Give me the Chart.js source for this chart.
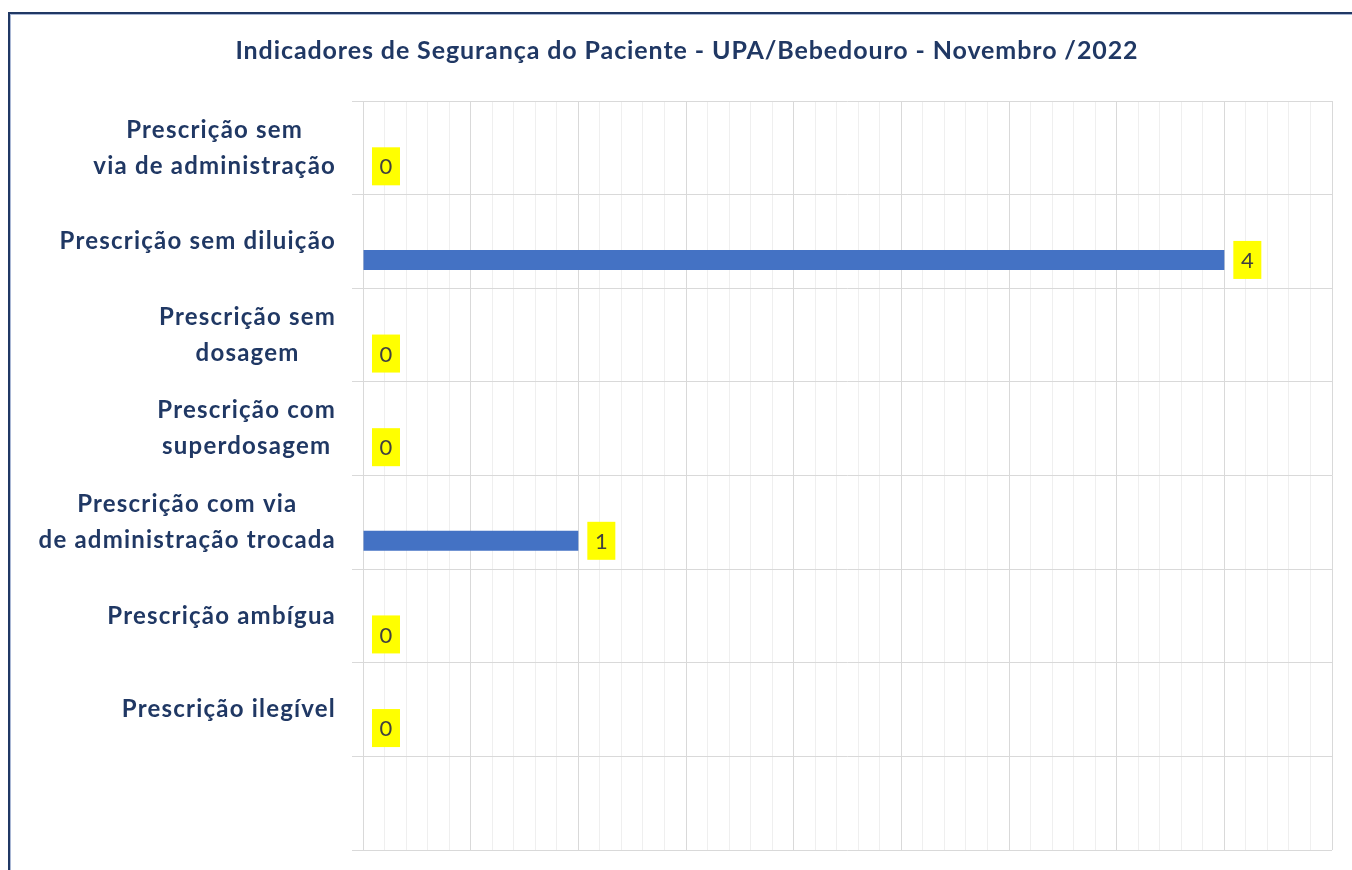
<!DOCTYPE html>
<html>
<head>
<meta charset="utf-8">
<script src="https://cdn.jsdelivr.net/npm/chart.js@4.4.0/dist/chart.umd.min.js"></script>
<style>
  html, body { margin: 0; padding: 0; background: #fff; }
  #wrap { width: 1352px; height: 870px; position: relative; }
</style>
</head>
<body>
<div id="wrap"><canvas id="chart"></canvas></div>
<script>
var titleText = 'Indicadores de Segurança do Paciente - UPA/Bebedouro - Novembro /2022';
var categories = [
  ['Prescrição sem', 'via de administração'],
  ['Prescrição sem diluição'],
  ['Prescrição sem', 'dosagem'],
  ['Prescrição com', 'superdosagem'],
  ['Prescrição com via', 'de administração trocada'],
  ['Prescrição ambígua'],
  ['Prescrição ilegível'],
  ['']
];
var values = [0, 4, 0, 0, 1, 0, 0, null];
var emptySeries = [null, null, null, null, null, null, null, null];
var axisMin = 0;
var axisMax = 4.5;
var majorStep = 0.5;
var minorStep = 0.1;

var navy = '#203864';

function isMajor(v) {
  var r = v / majorStep;
  return Math.abs(r - Math.round(r)) < 1e-6;
}

// frame lines on top and left, like the cropped screenshot
var framePlugin = {
  id: 'frame',
  beforeDraw: function(chart) {
    var c = chart.ctx;
    c.save();
    c.fillStyle = '#fff';
    c.fillRect(0, 0, chart.width, chart.height);
    c.fillStyle = navy;
    c.fillRect(8, 12, chart.width - 8, 2);
    c.fillRect(8, 12, 2, chart.height - 12);
    c.fillStyle = '#a9b7d4';
    c.fillRect(10, 14, chart.width - 10, 1);
    c.fillRect(10, 14, 1, chart.height - 14);
    c.restore();
  }
};

// title drawn by hand so letter spacing can follow the original
var titlePlugin = {
  id: 'titleText',
  afterDraw: function(chart) {
    var c = chart.ctx;
    c.save();
    c.font = 'bold 25px Lato';
    c.letterSpacing = '0.9px';
    c.fillStyle = navy;
    c.textAlign = 'center';
    c.textBaseline = 'middle';
    c.fillText(titleText, 687, 51);
    c.restore();
  }
};

// category labels: block right aligned, lines centred to each other
var catLabels = {
  id: 'catLabels',
  afterDraw: function(chart) {
    var c = chart.ctx;
    var yScale = chart.scales.y;
    var right = chart.chartArea.left - 27;
    c.save();
    c.font = 'bold 24px Lato';
    c.letterSpacing = '1.2px';
    c.fillStyle = navy;
    c.textAlign = 'center';
    c.textBaseline = 'middle';
    categories.forEach(function(lines, i) {
      var w = 0;
      lines.forEach(function(l) { w = Math.max(w, c.measureText(l).width); });
      var cx = right - w / 2;
      var cy = yScale.getPixelForTick(i);
      var lh = 36;
      lines.forEach(function(l, k) {
        c.fillText(l, cx, cy + (k - (lines.length - 1) / 2) * lh);
      });
    });
    c.restore();
  }
};

// yellow value boxes after the bar end
var valueBoxes = {
  id: 'valueBoxes',
  afterDatasetsDraw: function(chart) {
    var c = chart.ctx;
    var meta = chart.getDatasetMeta(1);
    c.save();
    c.font = '22px Lato';
    c.textAlign = 'center';
    c.textBaseline = 'middle';
    meta.data.forEach(function(bar, i) {
      if (values[i] === null) return;
      var x = bar.x + 9;
      var y = bar.y;
      c.fillStyle = '#ffff00';
      c.fillRect(x, y - 19, 28, 38);
      c.fillStyle = '#404040';
      c.fillText(String(values[i]), x + 14, y + 1);
    });
    c.restore();
  }
};

var ctx = document.getElementById('chart').getContext('2d');
var chart = new Chart(ctx, {
  type: 'bar',
  data: {
    labels: categories,
    datasets: [
      { label: '', data: emptySeries, backgroundColor: '#4472C4' },
      { label: 'Quantidade', data: values, backgroundColor: '#4472C4' }
    ]
  },
  options: {
    indexAxis: 'y',
    responsive: true,
    maintainAspectRatio: false,
    animation: false,
    categoryPercentage: 0.79,
    barPercentage: 0.54,
    layout: { padding: { left: 41, right: 20, top: 101, bottom: 20 } },
    plugins: {
      legend: { display: false },
      tooltip: { enabled: false },
      title: { display: false }
    },
    scales: {
      x: {
        type: 'linear',
        min: axisMin,
        max: axisMax,
        ticks: { display: false, stepSize: minorStep, autoSkip: false, maxTicksLimit: 100 },
        grid: {
          drawTicks: false,
          color: function(c) { return isMajor(c.tick.value) ? '#d9d9d9' : '#efefef'; },
          lineWidth: 1
        },
        border: { display: false }
      },
      y: {
        type: 'category',
        offset: true,
        ticks: { display: false },
        grid: { offset: true, color: '#d9d9d9', tickLength: 11, drawTicks: true },
        border: { display: false },
        afterFit: function(scale) { scale.width = 322; }
      }
    }
  },
  plugins: [framePlugin, titlePlugin, catLabels, valueBoxes]
});
</script>
</body>
</html>
